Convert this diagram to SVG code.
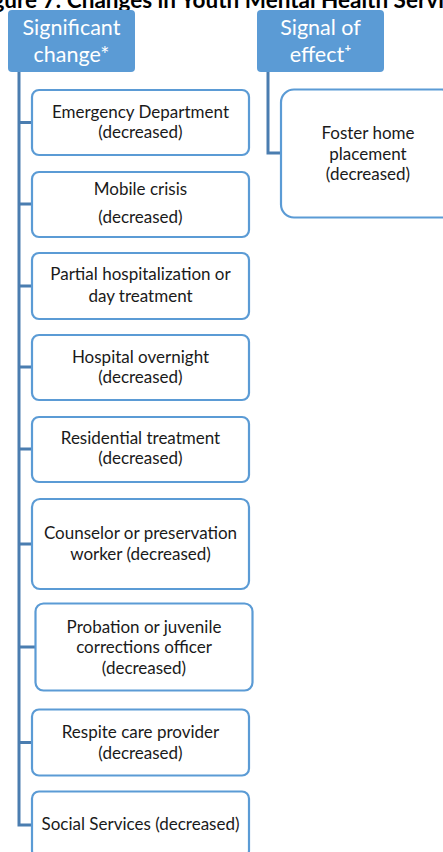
<svg xmlns="http://www.w3.org/2000/svg" width="443" height="852" viewBox="0 0 443 852">
<style>
.hdr{fill:#5B9BD5;}
.ht{fill:#FFFFFF;font-family:Lato,"Liberation Sans",sans-serif;font-size:21.5px;text-anchor:middle;}
.box{fill:#FFFFFF;stroke:#5B9BD5;stroke-width:2.2;}
.bt{fill:#1A1A1A;font-family:Lato,"Liberation Sans",sans-serif;font-size:17px;text-anchor:middle;}
.con{fill:none;stroke:#4A7DB0;stroke-width:3;}
.title{fill:#000;font-family:Lato,"Liberation Sans",sans-serif;font-size:22.5px;font-weight:bold;}
</style>
<rect width="443" height="852" fill="#FFFFFF"/>
<text class="title" x="-26" y="7.5">Figure 7: Changes in Youth Mental Health Services</text>
<g id="connectors">
<path class="con" d="M19,72 V825 H32"/>
<path class="con" d="M19,122.5 H32 M19,204 H32 M19,286 H32 M19,367 H32 M19,449 H32 M19,544 H32 M19,647 H35 M19,742.5 H32"/>
<path class="con" d="M268,72 V153 H281"/>
</g>
<g id="h1"><rect class="hdr" x="8" y="10" width="127" height="62" rx="4"/>
<text class="ht" x="71.5" y="35">Significant</text><text class="ht" x="71.5" y="62">change*</text></g>
<g id="h2"><rect class="hdr" x="257" y="10" width="127" height="62" rx="4"/>
<text class="ht" x="320.5" y="35">Signal of</text><text class="ht" x="320.5" y="62">effect⁺</text></g>
<g id="n1"><rect class="box" x="32" y="90" width="217" height="65" rx="7"/>
<text class="bt" x="140.5" y="118.3">Emergency Department</text><text class="bt" x="140.5" y="138.3">(decreased)</text></g>
<g id="n2"><rect class="box" x="32" y="172" width="217" height="65" rx="7"/>
<text class="bt" x="140.5" y="195">Mobile crisis</text><text class="bt" x="140.5" y="223.3">(decreased)</text></g>
<g id="n3"><rect class="box" x="32" y="253" width="217" height="66" rx="7"/>
<text class="bt" x="140.5" y="280">Partial hospitalization or</text><text class="bt" x="140.5" y="301.7">day treatment</text></g>
<g id="n4"><rect class="box" x="32" y="335" width="217" height="65" rx="7"/>
<text class="bt" x="140.5" y="363.3">Hospital overnight</text><text class="bt" x="140.5" y="383.3">(decreased)</text></g>
<g id="n5"><rect class="box" x="32" y="417" width="217" height="65" rx="7"/>
<text class="bt" x="140.5" y="444">Residential treatment</text><text class="bt" x="140.5" y="464">(decreased)</text></g>
<g id="n6"><rect class="box" x="32" y="499" width="217" height="90" rx="8"/>
<text class="bt" x="140.5" y="539.3">Counselor or preservation</text><text class="bt" x="140.5" y="560">worker (decreased)</text></g>
<g id="n7"><rect class="box" x="35.5" y="603.5" width="217" height="87" rx="8"/>
<text class="bt" x="144" y="632.7">Probation or juvenile</text><text class="bt" x="144" y="653.3">corrections officer</text><text class="bt" x="144" y="674">(decreased)</text></g>
<g id="n8"><rect class="box" x="32" y="709.5" width="217" height="66" rx="7"/>
<text class="bt" x="140.5" y="738.3">Respite care provider</text><text class="bt" x="140.5" y="759">(decreased)</text></g>
<g id="n9"><rect class="box" x="32" y="791.5" width="217" height="66" rx="7"/>
<text class="bt" x="140.5" y="830">Social Services (decreased)</text></g>
<g id="n10"><rect class="box" x="281" y="89.5" width="174" height="128" rx="13"/>
<text class="bt" x="368" y="139.3">Foster home</text><text class="bt" x="368" y="160">placement</text><text class="bt" x="368" y="180">(decreased)</text></g>
</svg>
